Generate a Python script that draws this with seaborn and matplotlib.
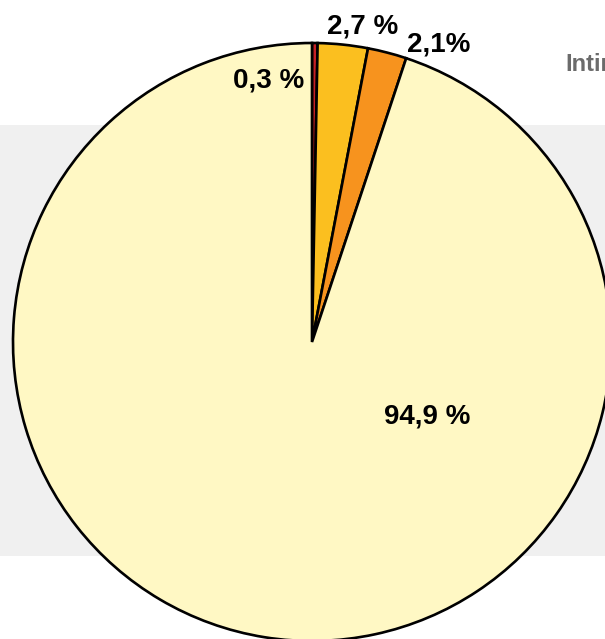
import matplotlib
matplotlib.use("Agg")
import matplotlib.pyplot as plt
import seaborn as sns

# Shares of the four categories, in percent, clockwise from the top
shares = [0.3, 2.7, 2.1, 94.9]
label_formats = ["{} %", "{} %", "{}%", "{} %"]
slice_colors = ["#C62026", "#FBBF1F", "#F7931E", "#FFF8C4"]

# Label anchor points (pixels from top-left of the canvas)
label_xy = [(269, 88), (363, 33), (439, 52), (427, 423)]

W, H = 605, 639

sns.set_theme(style="white")
plt.rcParams["font.family"] = ["Liberation Sans", "DejaVu Sans"]

fig = plt.figure(figsize=(W / 100, H / 100), dpi=100)
ax = fig.add_axes([0, 0, 1, 1])
ax.set_xlim(0, W)
ax.set_ylim(0, H)
ax.set_aspect("equal")
ax.axis("off")

# light grey backdrop band behind the pie
ax.axhspan(H - 556, H - 125, color="#F0F0F0", zorder=0, lw=0)

ax.pie(
    shares,
    colors=slice_colors,
    startangle=90,
    counterclock=False,
    center=(312, H - 342),
    radius=299,
    wedgeprops=dict(edgecolor="black", linewidth=1.9),
    frame=True,
)
ax.set_xlim(0, W)
ax.set_ylim(0, H)
ax.axis("off")

for v, fmt, (x, y) in zip(shares, label_formats, label_xy):
    txt = fmt.format(f"{v:.1f}".replace(".", ","))
    ax.text(x, H - y, txt, ha="center", va="baseline",
            fontsize=20, fontweight="bold", color="black", zorder=5)

ax.text(565, H - 71, "Intimate", ha="left", va="baseline",
        fontsize=17, fontweight="bold", color="#6B6B6B", zorder=5)

fig.savefig("out.png", dpi=100)
